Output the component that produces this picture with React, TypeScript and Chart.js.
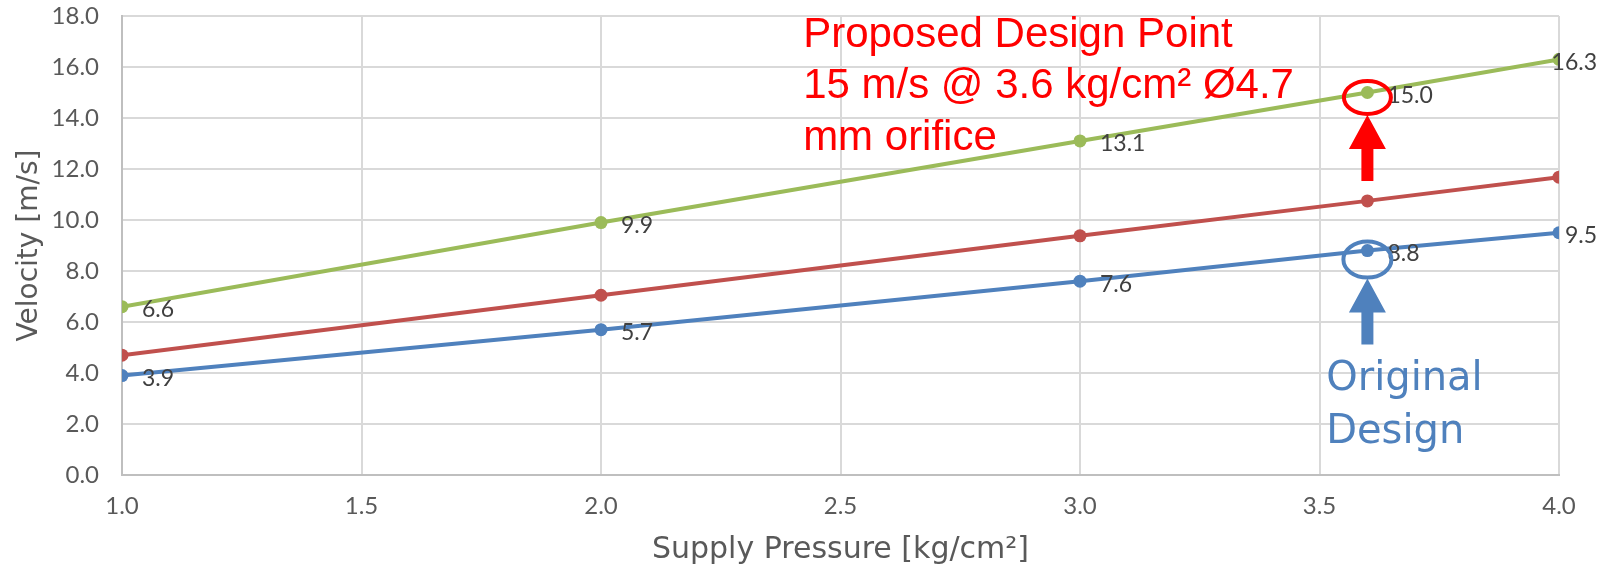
import React, { useEffect, useRef } from "react";
import { Chart, registerables } from "chart.js";

Chart.register(...registerables);

// ---- Data ----
const pressures = [1.0, 2.0, 3.0, 3.6, 4.0];
const originalVelocity = [3.9, 5.7, 7.6, 8.8, 9.5];
const intermediateVelocity = [4.7, 7.05, 9.38, 10.75, 11.68];
const proposedVelocity = [6.6, 9.9, 13.1, 15.0, 16.3];

const xMin = 1.0;
const xMax = 4.0;
const xStep = 0.5;
const yMin = 0;
const yMax = 18;
const yStep = 2;

const xTitle = "Supply Pressure [kg/cm²]";
const yTitle = "Velocity [m/s]";

const designPressure = 3.6;
const proposedDesignVelocity = 15.0;
const originalDesignVelocity = 8.8;
const proposedNote = ["Proposed Design Point", "15 m/s @ 3.6 kg/cm² Ø4.7", "mm orifice"];
const originalNote = ["Original", "Design"];
// anchors for notes in data units
const proposedNoteAnchor = { x: 2.422, y: 16.8 };
const originalNoteAnchor = { x: 3.514, y: 3.33 };

const BLUE = "#4F81BD";
const RED_SERIES = "#C0504D";
const GREEN = "#9BBB59";
const RED = "#FF0000";
const AXIS_TEXT = "#595959";
const LABEL_TEXT = "#404040";
const NUM_FONT = "Lato, 'DejaVu Sans', sans-serif";
const WORD_FONT = "'DejaVu Sans', Lato, sans-serif";

function toPoints(values: number[]) {
  return pressures.map((p, i) => ({ x: p, y: values[i] }));
}

function drawArrow(ctx: CanvasRenderingContext2D, cx: number, tipY: number, color: string) {
  const headH = 34;
  const headW = 37;
  const shaftW = 12;
  const total = 66;
  ctx.save();
  ctx.fillStyle = color;
  ctx.beginPath();
  ctx.moveTo(cx, tipY);
  ctx.lineTo(cx + headW / 2, tipY + headH);
  ctx.lineTo(cx + shaftW / 2, tipY + headH);
  ctx.lineTo(cx + shaftW / 2, tipY + total);
  ctx.lineTo(cx - shaftW / 2, tipY + total);
  ctx.lineTo(cx - shaftW / 2, tipY + headH);
  ctx.lineTo(cx - headW / 2, tipY + headH);
  ctx.closePath();
  ctx.fill();
  ctx.restore();
}

const overlayPlugin = {
  id: "overlay",
  afterDatasetsDraw(chart: any) {
    const ctx: CanvasRenderingContext2D = chart.ctx;
    const xs = chart.scales.x;
    const ys = chart.scales.y;

    // data labels (blue and green series)
    ctx.save();
    ctx.font = `23px ${NUM_FONT}`;
    ctx.fillStyle = LABEL_TEXT;
    ctx.textAlign = "left";
    ctx.textBaseline = "middle";
    [0, 2].forEach((di) => {
      const meta = chart.getDatasetMeta(di);
      const ds = chart.data.datasets[di];
      meta.data.forEach((pt: any, i: number) => {
        const txt = (ds.data[i].y as number).toFixed(1);
        const w = ctx.measureText(txt).width;
        let x = pt.x + 20;
        const maxRight = chart.width - 13;
        if (x + w > maxRight) x = maxRight - w;
        ctx.fillText(txt, x, pt.y + 3);
      });
    });
    ctx.restore();

    const cx = xs.getPixelForValue(designPressure);

    // red ellipse + arrow
    const redCy = ys.getPixelForValue(proposedDesignVelocity) + 5;
    const redRy = 16.5;
    ctx.save();
    ctx.strokeStyle = RED;
    ctx.lineWidth = 4;
    ctx.beginPath();
    ctx.ellipse(cx, redCy, 23.5, redRy, 0, 0, Math.PI * 2);
    ctx.stroke();
    ctx.restore();
    drawArrow(ctx, cx, redCy + redRy + 1, RED);

    // blue ellipse + arrow
    const blueCy = ys.getPixelForValue(originalDesignVelocity) + 9;
    const blueRy = 18;
    ctx.save();
    ctx.strokeStyle = BLUE;
    ctx.lineWidth = 4;
    ctx.beginPath();
    ctx.ellipse(cx, blueCy, 24, blueRy, 0, 0, Math.PI * 2);
    ctx.stroke();
    ctx.restore();
    drawArrow(ctx, cx, blueCy + blueRy + 1, BLUE);

    // proposed note
    ctx.save();
    ctx.font = `42px 'Liberation Sans', Arial, sans-serif`;
    ctx.fillStyle = RED;
    ctx.textAlign = "left";
    ctx.textBaseline = "alphabetic";
    const px = xs.getPixelForValue(proposedNoteAnchor.x);
    const py = ys.getPixelForValue(proposedNoteAnchor.y);
    proposedNote.forEach((line, i) => ctx.fillText(line, px, py + i * 51.5));
    ctx.restore();

    // original note
    ctx.save();
    ctx.font = `40px ${WORD_FONT}`;
    ctx.fillStyle = BLUE;
    ctx.textAlign = "left";
    ctx.textBaseline = "alphabetic";
    const ox = xs.getPixelForValue(originalNoteAnchor.x);
    const oy = ys.getPixelForValue(originalNoteAnchor.y);
    originalNote.forEach((line, i) => ctx.fillText(line, ox, oy + i * 53));
    ctx.restore();
  },
  afterDraw(chart: any) {
    const ctx: CanvasRenderingContext2D = chart.ctx;
    const area = chart.chartArea;
    ctx.save();
    ctx.fillStyle = AXIS_TEXT;
    // x title
    ctx.font = `30px ${WORD_FONT}`;
    ctx.textAlign = "center";
    ctx.textBaseline = "alphabetic";
    ctx.fillText(xTitle, (area.left + area.right) / 2, chart.height - 11);
    // y title
    ctx.font = `28px ${WORD_FONT}`;
    ctx.translate(37, (area.top + area.bottom) / 2);
    ctx.rotate(-Math.PI / 2);
    ctx.fillText(yTitle, 0, 0);
    ctx.restore();
  },
};

export default function App() {
  const canvasRef = useRef<HTMLCanvasElement | null>(null);

  useEffect(() => {
    document.body.style.margin = "0";
    const canvas = canvasRef.current;
    if (!canvas) return;
    const lineStyle = (color: string) => ({
      borderColor: color,
      backgroundColor: color,
      borderWidth: 4,
      pointRadius: 6.5,
      pointHoverRadius: 6.5,
      pointBorderWidth: 0,
      pointBackgroundColor: color,
      tension: 0,
      fill: false,
    });
    const chart = new Chart(canvas, {
      type: "line",
      data: {
        datasets: [
          { label: "Original", data: toPoints(originalVelocity), ...lineStyle(BLUE) },
          { label: "Intermediate", data: toPoints(intermediateVelocity), ...lineStyle(RED_SERIES) },
          { label: "Proposed", data: toPoints(proposedVelocity), ...lineStyle(GREEN) },
        ],
      },
      options: {
        responsive: false,
        animation: false,
        devicePixelRatio: 1,
        layout: { padding: { top: 16, right: 51, left: 0, bottom: 0 } },
        plugins: {
          legend: { display: false },
          tooltip: { enabled: false },
        },
        scales: {
          x: {
            type: "linear",
            min: xMin,
            max: xMax,
            afterFit: (scale: any) => {
              scale.height = 94;
            },
            ticks: {
              stepSize: xStep,
              color: AXIS_TEXT,
              font: { family: NUM_FONT, size: 24 },
              padding: 17,
              maxRotation: 0,
              callback: (v: any) => Number(v).toFixed(1),
            },
            grid: { color: "#D9D9D9", lineWidth: 2, drawTicks: false },
            border: { color: "#BFBFBF", width: 2 },
          },
          y: {
            type: "linear",
            min: yMin,
            max: yMax,
            afterFit: (scale: any) => {
              scale.width = 122;
              scale.paddingTop = 0;
              scale.paddingBottom = 0;
            },
            ticks: {
              stepSize: yStep,
              color: AXIS_TEXT,
              font: { family: NUM_FONT, size: 24 },
              padding: 23,
              callback: (v: any) => Number(v).toFixed(1),
            },
            grid: { color: "#D9D9D9", lineWidth: 2, drawTicks: false },
            border: { color: "#BFBFBF", width: 2 },
          },
        },
      },
      plugins: [overlayPlugin],
    } as any);
    return () => chart.destroy();
  }, []);

  return (
    <div style={{ width: 1610, height: 569, background: "#ffffff" }}>
      <canvas ref={canvasRef} width={1610} height={569} style={{ display: "block" }} />
    </div>
  );
}
